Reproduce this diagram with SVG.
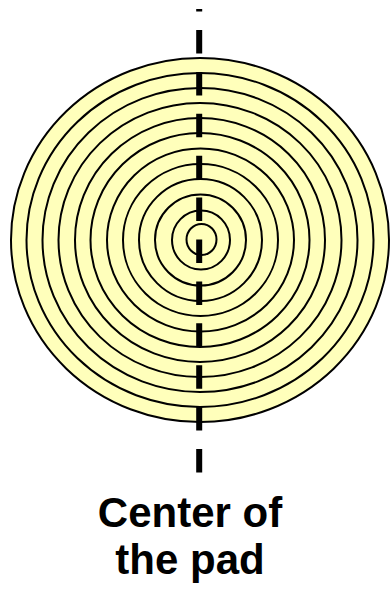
<svg xmlns="http://www.w3.org/2000/svg" width="390" height="589" viewBox="0 0 390 589">
<style>
.ring{fill:#FFFFBB;stroke:#000;stroke-width:2}
.axis{stroke:#000;stroke-width:6;stroke-dasharray:23.5 18.4;stroke-dashoffset:20.9;fill:none}
.lbl{font-family:"Liberation Sans",Arial,sans-serif;font-weight:bold;font-size:42px;fill:#000;text-anchor:middle}
</style>
<g id="pad">
<ellipse class="ring" cx="200" cy="240" rx="189" ry="182"/>
<ellipse class="ring" cx="200" cy="240" rx="173.5" ry="167"/>
<ellipse class="ring" cx="200" cy="240" rx="157.5" ry="152"/>
<ellipse class="ring" cx="200" cy="240" rx="141.5" ry="137"/>
<ellipse class="ring" cx="200" cy="240" rx="125" ry="122"/>
<ellipse class="ring" cx="200" cy="240" rx="109.5" ry="107"/>
<ellipse class="ring" cx="200.5" cy="240" rx="93.5" ry="91.5"/>
<ellipse class="ring" cx="200.5" cy="240" rx="77.5" ry="76"/>
<ellipse class="ring" cx="200.5" cy="240" rx="61.5" ry="61"/>
<ellipse class="ring" cx="200.5" cy="240" rx="45.5" ry="45.5"/>
<ellipse class="ring" cx="201" cy="240" rx="29" ry="29.5"/>
<ellipse class="ring" cx="201.5" cy="239.5" rx="15" ry="15.5"/>
</g>
<g id="connectors">
<line class="axis" x1="199.2" y1="9" x2="199.2" y2="473.5"/>
</g>
<g id="label">
<text class="lbl" x="190" y="526.7">Center of</text>
<text class="lbl" x="190" y="574.3">the pad</text>
</g>
</svg>
